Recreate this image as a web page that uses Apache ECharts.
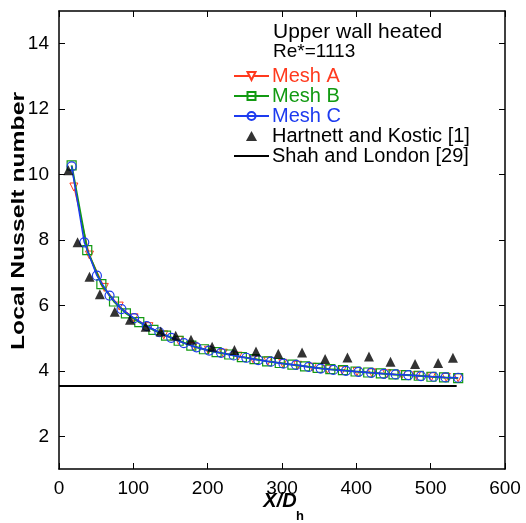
<!DOCTYPE html>
<html><head><meta charset="utf-8">
<script src="https://cdn.jsdelivr.net/npm/echarts@6/dist/echarts.min.js"></script>
<style>html,body{margin:0;padding:0;background:#fff}#c{width:526px;height:523px}</style>
</head><body><div id="c"></div>
<script>
var xTicks = [0, 100, 200, 300, 400, 500, 600];
var yTicks = [2, 4, 6, 8, 10, 12, 14];

var meshA_x = [20, 41, 61, 81, 101, 121, 141, 161, 181, 201, 221, 241, 261, 281, 301, 321, 341, 361, 381, 401, 421, 441, 461, 481, 501, 521, 537];
var meshA_y = [9.62, 7.54, 6.55, 5.98, 5.62, 5.35, 5.10, 4.93, 4.75, 4.63, 4.54, 4.45, 4.37, 4.30, 4.23, 4.17, 4.11, 4.05, 4.02, 3.98, 3.94, 3.91, 3.88, 3.85, 3.82, 3.80, 3.79];

var meshB_x = [17, 38, 57, 74, 90, 108, 127, 144, 161, 178, 195, 212, 229, 246, 263, 280, 297, 314, 331, 348, 365, 382, 399, 416, 433, 450, 467, 484, 501, 518, 537];
var meshB_y = [10.28, 7.69, 6.65, 6.12, 5.76, 5.49, 5.25, 5.08, 4.92, 4.77, 4.66, 4.57, 4.50, 4.42, 4.36, 4.29, 4.24, 4.19, 4.14, 4.09, 4.05, 4.02, 3.98, 3.95, 3.92, 3.89, 3.87, 3.85, 3.82, 3.80, 3.78];

var meshC_x = [17, 34, 51, 68, 84, 101, 118, 135, 151, 168, 185, 202, 218, 235, 252, 268, 285, 302, 319, 336, 352, 369, 386, 403, 420, 437, 453, 470, 487, 504, 520, 537];
var meshC_y = [10.25, 7.93, 6.91, 6.30, 5.89, 5.61, 5.37, 5.18, 5.01, 4.85, 4.72, 4.62, 4.55, 4.47, 4.40, 4.33, 4.28, 4.22, 4.18, 4.12, 4.07, 4.03, 4.00, 3.97, 3.94, 3.91, 3.89, 3.87, 3.84, 3.82, 3.80, 3.79];

var hk_x = [12.5, 25, 41, 55, 75, 95.5, 116.6, 136.8, 157, 177.6, 206, 236, 265, 295, 327, 358, 388, 417, 446, 479, 510, 530];
var hk_y = [10.13, 7.93, 6.88, 6.34, 5.81, 5.56, 5.35, 5.20, 5.07, 4.95, 4.74, 4.64, 4.59, 4.52, 4.56, 4.36, 4.41, 4.44, 4.28, 4.21, 4.24, 4.40];

var sl_x = [0, 535];
var sl_y = [3.54, 3.54];

function zip(a, b) { return a.map(function (v, i) { return [v, b[i]]; }); }

var FONT = '"Liberation Sans", Arial, Helvetica, sans-serif';
var RED = '#ff3a1e', GREEN = '#129a12', BLUE = '#1d3bef';

var chart = echarts.init(document.getElementById('c'), null, {renderer: 'canvas'});
var commonX = {
  type: 'value', min: 0, max: 600, interval: 100,
  axisLine: {show: true, onZero: false, lineStyle: {color: '#000', width: 1.5}},
  axisTick: {show: true, inside: true, length: 6, lineStyle: {color: '#000', width: 1}},
  splitLine: {show: false}
};
var commonY = {
  type: 'value', min: 1, max: 15,
  axisLine: {show: true, onZero: false, lineStyle: {color: '#000', width: 1.5}},
  axisTick: {show: true, inside: true, length: 6, customValues: yTicks, lineStyle: {color: '#000', width: 1}},
  splitLine: {show: false}
};

chart.setOption({
  animation: false,
  backgroundColor: '#fff',
  textStyle: {fontFamily: FONT},
  grid: {left: 59, right: 21, top: 11, bottom: 54, containLabel: false, outerBoundsMode: 'none'},
  xAxis: [
    Object.assign({}, commonX, {
      position: 'bottom',
      axisLabel: {show: true, color: '#000', fontSize: 19, fontFamily: FONT, margin: 10,
        customValues: xTicks}
    }),
    Object.assign({}, commonX, {position: 'top', axisLabel: {show: false}})
  ],
  yAxis: [
    Object.assign({}, commonY, {
      position: 'left',
      axisLabel: {show: true, color: '#000', fontSize: 19, fontFamily: FONT, margin: 10,
        customValues: yTicks}
    }),
    Object.assign({}, commonY, {position: 'right', axisLabel: {show: false}})
  ],
  legend: {
    orient: 'vertical', left: 233, top: 66, padding: 0,
    itemWidth: 35, itemHeight: 10, itemGap: 0,
    textStyle: {fontSize: 20, fontFamily: FONT, color: '#000', padding: [0, 0, 0, -2], lineHeight: 19.5},
    data: [
      {name: 'Mesh A', textStyle: {color: RED}},
      {name: 'Mesh B', textStyle: {color: GREEN}},
      {name: 'Mesh C', textStyle: {color: BLUE}},
      {name: 'Hartnett and Kostic [1]', textStyle: {color: '#000'}, icon: 'path://M5,0 L10,9 L0,9 Z'},
      {name: 'Shah and London [29]', textStyle: {color: '#000'}, icon: 'path://M0,0 L35,0 L35,2 L0,2 Z'}
    ]
  },
  graphic: [
    {type: 'text', left: 273, top: 22, style: {text: 'Upper wall heated', font: '21px ' + FONT, fill: '#000'}},
    {type: 'text', left: 273, top: 42, style: {text: 'Re*=1113', font: '19px ' + FONT, fill: '#000'}},
    {type: 'text', x: 19, y: 221, rotation: Math.PI / 2, scaleX: 1.3,
      style: {text: 'Local Nusselt number', font: 'bold 19px ' + FONT, fill: '#000', align: 'center', verticalAlign: 'middle'}},
    {type: 'text', x: 280, y: 501,
      style: {text: 'X/D', font: 'italic bold 20px ' + FONT, fill: '#000', align: 'center', verticalAlign: 'middle'}},
    {type: 'text', x: 300, y: 516,
      style: {text: 'h', font: 'bold 13px ' + FONT, fill: '#000', align: 'center', verticalAlign: 'middle'}}
  ],
  series: [
    {
      name: 'Shah and London [29]', type: 'line', data: zip(sl_x, sl_y),
      symbol: 'none', lineStyle: {color: '#000', width: 2}, itemStyle: {color: '#000'}, z: 1
    },
    {
      name: 'Mesh A', type: 'line', data: zip(meshA_x, meshA_y),
      symbol: 'triangle', symbolRotate: 180, symbolSize: 8, showAllSymbol: true,
      lineStyle: {color: RED, width: 1}, itemStyle: {color: '#fff', borderColor: RED, borderWidth: 1}, z: 2
    },
    {
      name: 'Mesh B', type: 'line', data: zip(meshB_x, meshB_y),
      symbol: 'rect', symbolSize: 9, showAllSymbol: true,
      lineStyle: {color: GREEN, width: 2}, itemStyle: {color: 'rgba(0,0,0,0)', borderColor: GREEN, borderWidth: 1.2}, z: 3
    },
    {
      name: 'Mesh C', type: 'line', data: zip(meshC_x, meshC_y),
      symbol: 'circle', symbolSize: 9, showAllSymbol: true,
      lineStyle: {color: BLUE, width: 1.5}, itemStyle: {color: 'rgba(0,0,0,0)', borderColor: BLUE, borderWidth: 1.2}, z: 4
    },
    {
      name: 'Hartnett and Kostic [1]', type: 'scatter', data: zip(hk_x, hk_y),
      symbol: 'triangle', symbolSize: 10, itemStyle: {color: '#000'}, z: 5
    }
  ]
});
</script></body></html>
